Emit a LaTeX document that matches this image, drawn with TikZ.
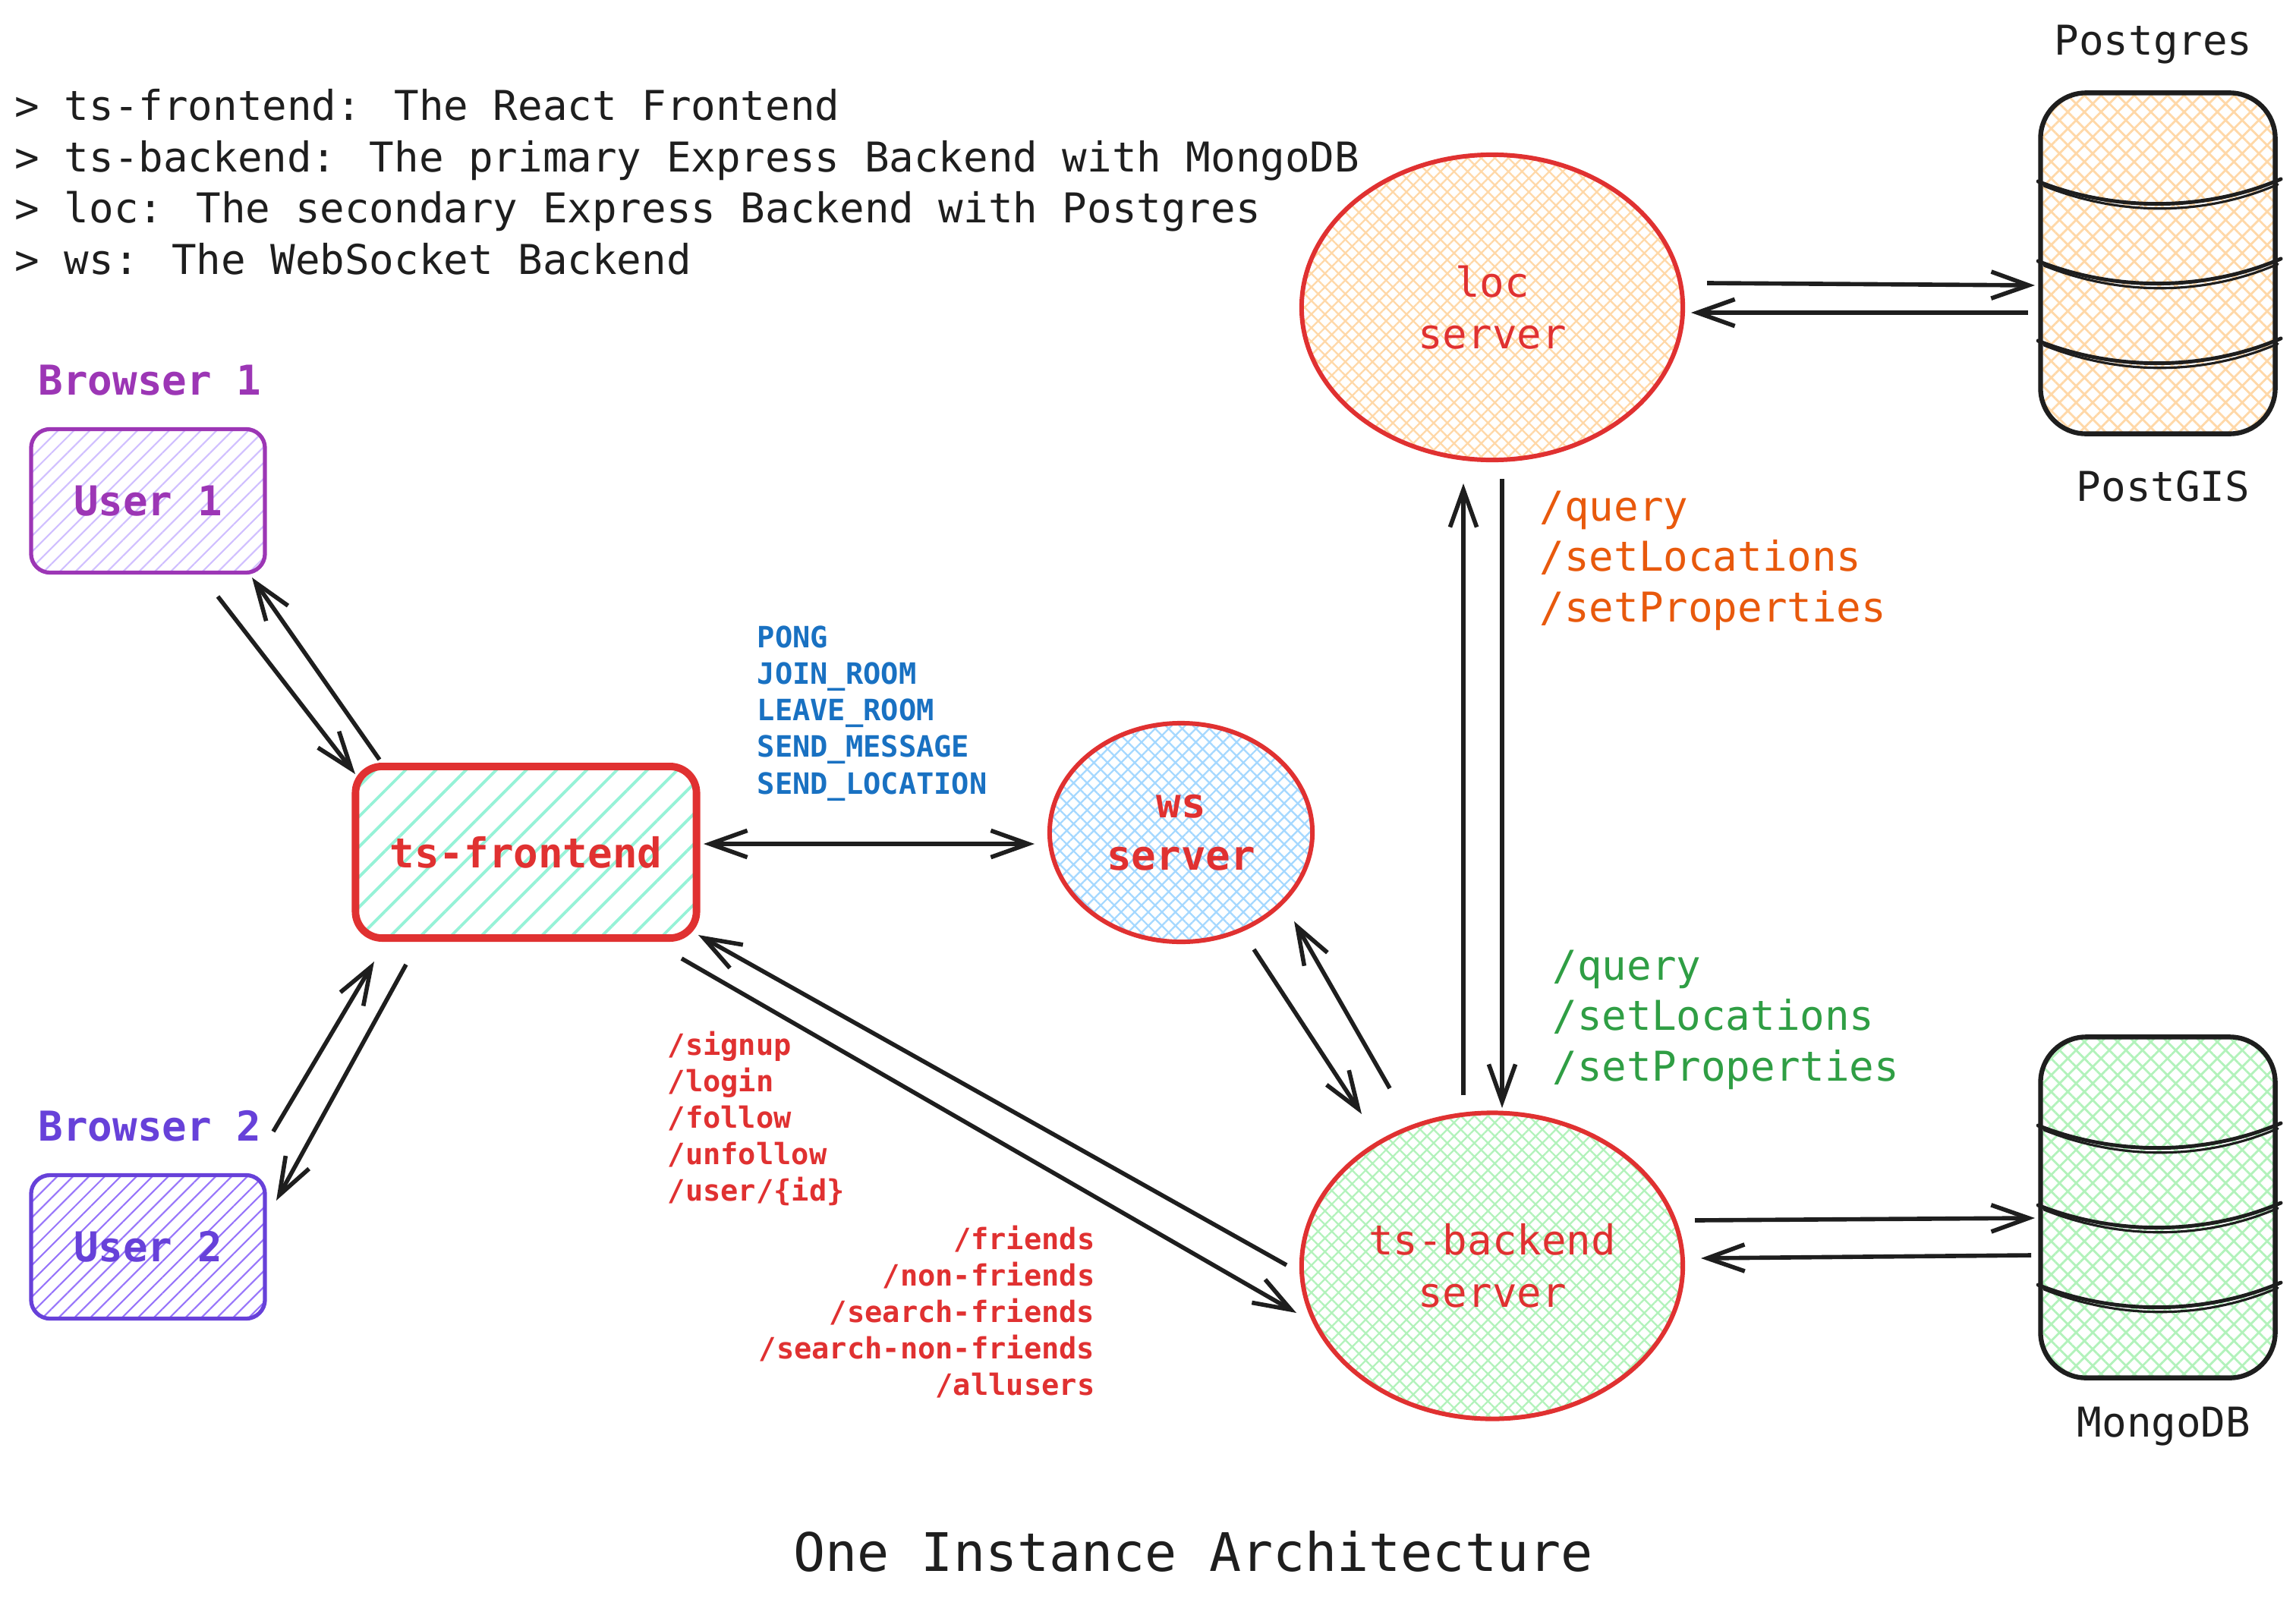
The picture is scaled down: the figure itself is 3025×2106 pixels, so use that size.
\documentclass[tikz,border=0pt]{standalone}
\usepackage{fontspec}
\newfontfamily\codefont{DejaVu Sans Mono}
\usetikzlibrary{arrows.meta,calc,shapes.geometric,patterns.meta}

\definecolor{inkblack}{HTML}{1E1E1E}
\definecolor{sketchred}{HTML}{E03131}
\definecolor{grapestroke}{HTML}{9C36B5}
\definecolor{grapefill}{HTML}{D0BFFF}
\definecolor{violetstroke}{HTML}{6741D9}
\definecolor{violetfill}{HTML}{9775FA}
\definecolor{tealfill}{HTML}{96F2D7}
\definecolor{bluefill}{HTML}{A5D8FF}
\definecolor{orangefill}{HTML}{FFD8A8}
\definecolor{greenfill}{HTML}{B2F2BB}
\definecolor{wsblue}{HTML}{1971C2}
\definecolor{locorange}{HTML}{E8590C}
\definecolor{begreen}{HTML}{2F9E44}

\tikzset{
    big text/.style={font=\codefont\fontsize{15.4}{19.5}\selectfont},
    big bold/.style={font=\codefont\bfseries\fontsize{15.4}{19.5}\selectfont},
    small bold/.style={font=\codefont\bfseries\fontsize{11}{13.7}\selectfont},
    route text/.style={font=\codefont\fontsize{15.4}{18.9}\selectfont,align=left,anchor=north west,inner sep=0pt},
    arrowtip/.style={>={Straight Barb[length=14pt,width=10pt]}},
    arr/.style={arrowtip,->,line width=1.6pt,inkblack},
    darr/.style={arrowtip,<->,line width=1.6pt,inkblack},
    hachure/.style={pattern={Lines[angle=45,distance=#1,line width=0.6pt]}},
    hachure/.default=4.2pt,
    crosshatch/.style={pattern={Hatch[angle=45,distance=#1,line width=0.65pt]}},
    crosshatch/.default=3.6pt,
    user box/.style={big bold,line width=1.5pt,rounded corners=0.25cm,minimum width=3.08cm,minimum height=1.89cm,hachure},
    server/.style={ellipse,draw=sketchred,text=sketchred,line width=1.7pt,inner sep=0pt,align=center},
    db box/.style={draw=inkblack,line width=1.8pt,rounded corners=0.6cm,minimum width=3.09cm,minimum height=4.49cm,
        pattern={Hatch[angle=45,distance=4.4pt,line width=0.8pt]}},
    band/.style={line width=1.4pt,inkblack,line cap=round},
}

\begin{document}
\begin{tikzpicture}[x=0.01cm,y=-0.01cm]
    \useasboundingbox (0,0) rectangle (3025,2106);

    % notes
    \node[big text,text=inkblack,align=left,anchor=north west,inner sep=0pt,
          font=\codefont\fontsize{15.4}{19.2}\selectfont] (notes) at (19,117)
        {> ts-frontend: The React Frontend\\
         > ts-backend: The primary Express Backend with MongoDB\\
         > loc: The secondary Express Backend with Postgres\\
         > ws: The WebSocket Backend};

    % browsers
    \node[big bold,text=grapestroke,anchor=base west,inner sep=0pt] (browser1) at (50,520) {Browser 1};
    \node[user box,draw=grapestroke,text=grapestroke,pattern color=grapefill] (user1) at (195,660) {User 1};
    \node[big bold,text=violetstroke,anchor=base west,inner sep=0pt] (browser2) at (50,1503) {Browser 2};
    \node[user box,draw=violetstroke,text=violetstroke,pattern color=violetfill] (user2) at (195,1643) {User 2};

    % frontend
    \node[big bold,draw=sketchred,text=sketchred,line width=2.8pt,rounded corners=0.35cm,
          minimum width=4.49cm,minimum height=2.26cm,
          pattern={Lines[angle=45,distance=8pt,line width=1.1pt]},pattern color=tealfill] (frontend) at (693,1123) {ts-frontend};

    % servers
    \node[server,big bold,crosshatch,pattern color=bluefill,minimum width=3.46cm,minimum height=2.88cm] (ws) at (1556,1097) {ws\\server};
    \node[server,big text,crosshatch,pattern color=orangefill,minimum width=5.02cm,minimum height=4.02cm] (loc) at (1966,405) {loc\\server};
    \node[server,big text,crosshatch,pattern color=greenfill,minimum width=5.02cm,minimum height=4.03cm] (backend) at (1966,1668) {ts-backend\\server};

    % databases
    \node[db box,pattern color=orangefill] (postgres) at (2843,347) {};
    \node[db box,pattern color=greenfill] (mongo) at (2843,1591) {};
    \foreach \dbname in {postgres,mongo}
        \foreach \dy in {-108,-3,102} {
            \draw[band] ($(\dbname)+(-158,\dy)$) .. controls ($(\dbname)+(-58,\dy+40)$) and ($(\dbname)+(62,\dy+40)$) .. ($(\dbname)+(162,\dy-3)$);
            \draw[band,line width=0.9pt] ($(\dbname)+(-150,\dy+6)$) .. controls ($(\dbname)+(-50,\dy+46)$) and ($(\dbname)+(60,\dy+46)$) .. ($(\dbname)+(158,\dy+4)$);
        }
    \node[big text,text=inkblack,anchor=base] (pglabel) at (2837,73) {Postgres};
    \node[big text,text=inkblack,anchor=base] (gislabel) at (2850,660) {PostGIS};
    \node[big text,text=inkblack,anchor=base] (mongolabel) at (2851,1893) {MongoDB};

    % route labels
    \node[small bold,text=wsblue,align=left,anchor=north west,inner sep=0pt] (wsevents) at (997,824)
        {PONG\\JOIN\_ROOM\\LEAVE\_ROOM\\SEND\_MESSAGE\\SEND\_LOCATION};
    \node[small bold,text=sketchred,align=left,anchor=north west,inner sep=0pt] (authroutes) at (879,1358)
        {/signup\\/login\\/follow\\/unfollow\\/user/\{id\}};
    \node[small bold,text=sketchred,align=right,anchor=north east,inner sep=0pt] (friendroutes) at (1443,1614)
        {/friends\\/non-friends\\/search-friends\\/search-non-friends\\/allusers};
    \node[route text,text=locorange] (locroutes) at (2028,646) {/query\\/setLocations\\/setProperties};
    \node[route text,text=begreen] (beroutes) at (2045,1251) {/query\\/setLocations\\/setProperties};

    % connections
    \draw[arr] ($(user1)+(92,126)$) -- ($(frontend)+(-225,-103)$);
    \draw[arr] ($(frontend)+(-193,-122)$) -- ($(user1)+(137,101)$);
    \draw[arr] ($(user2)+(165,-152)$) -- ($(frontend)+(-200,144)$);
    \draw[arr] ($(frontend)+(-158,148)$) -- ($(user2)+(169,-61)$);
    \draw[darr] ($(frontend)+(234,-11)$) -- ($(ws)+(-193,15)$);
    \draw[arr] ($(backend)+(-271,-1)$) -- ($(frontend)+(227,109)$);
    \draw[arr] ($(frontend)+(205,140)$) -- ($(backend)+(-258,62)$);
    \draw[arr] ($(ws)+(96,154)$) -- ($(backend)+(-172,-200)$);
    \draw[arr] ($(backend)+(-135,-234)$) -- ($(ws)+(149,117)$);
    \draw[arr] ($(backend)+(-38,-225)$) -- ($(loc)+(-38,232)$);
    \draw[arr] ($(loc)+(13,226)$) -- ($(backend)+(13,-208)$);
    \draw[arr] ($(loc)+(283,-32)$) -- ($(postgres)+(-162,29)$);
    \draw[arr] ($(postgres)+(-171,65)$) -- ($(loc)+(262,7)$);
    \draw[arr] ($(backend)+(267,-60)$) -- ($(mongo)+(-162,14)$);
    \draw[arr] ($(mongo)+(-167,63)$) -- ($(backend)+(275,-10)$);

    % title
    \node[font=\codefont\fontsize{19.9}{24}\selectfont,text=inkblack,anchor=base] (title) at (1572,2070) {One Instance Architecture};
\end{tikzpicture}
\end{document}
